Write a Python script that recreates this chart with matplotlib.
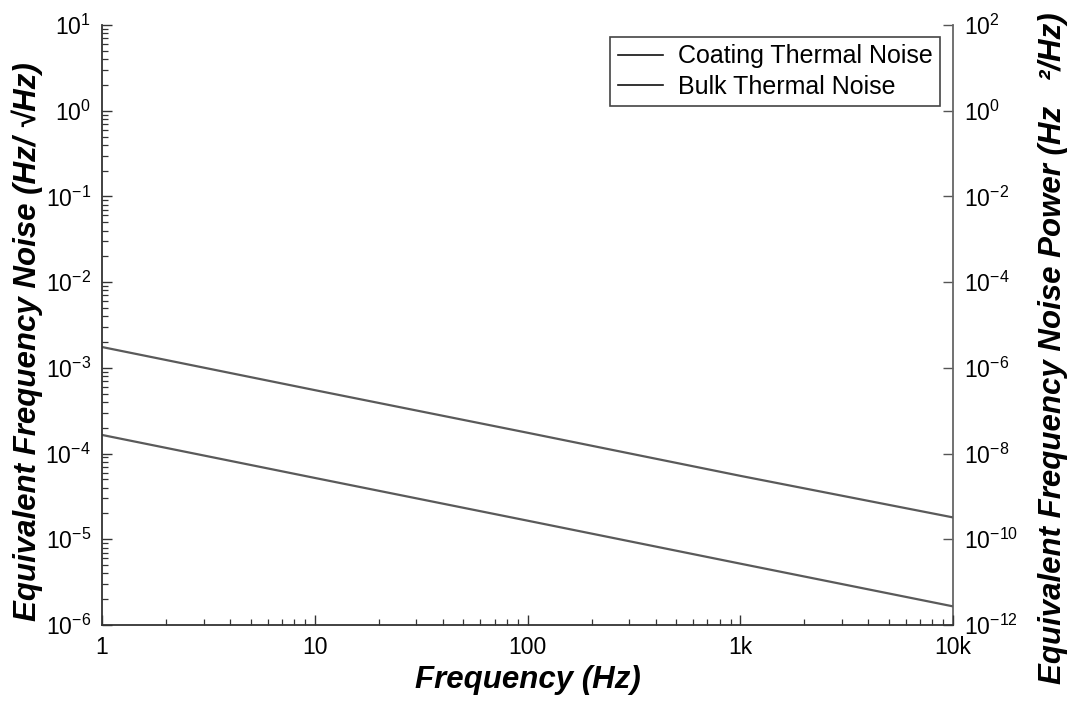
import numpy as np
import matplotlib
matplotlib.use("Agg")
import matplotlib.pyplot as plt
from matplotlib.ticker import FixedLocator, FixedFormatter, LogLocator, NullFormatter, NullLocator

plt.rcParams['font.family'] = ['Liberation Sans', 'DejaVu Sans']
plt.rcParams['mathtext.fontset'] = 'custom'
plt.rcParams['mathtext.rm'] = 'Liberation Sans'
plt.rcParams['mathtext.it'] = 'Liberation Sans:italic'
plt.rcParams['mathtext.bf'] = 'Liberation Sans:bold'

# frequency grid and noise curves (read at the decade points)
freq = [1, 10, 100, 1000, 10000]
coating_noise = [1.75e-3, 5.5e-4, 1.75e-4, 5.5e-5, 1.8e-5]
bulk_noise = [1.65e-4, 5.2e-5, 1.65e-5, 5.2e-6, 1.65e-6]

x_ticks = [1, 10, 100, 1000, 10000]
x_ticklabels = ['1', '10', '100', '1k', '10k']
left_exps = [1, 0, -1, -2, -3, -4, -5, -6]
right_exps = [2, 0, -2, -4, -6, -8, -10, -12]

fig = plt.figure(figsize=(10.76, 7.04), dpi=100)
ax = fig.add_axes([0.0948, 0.1122, 0.7909, 0.8523])

line_col = '#5a5a5a'
ax.plot(freq, coating_noise, color=line_col, lw=1.6, label='Coating Thermal Noise')
ax.plot(freq, bulk_noise, color=line_col, lw=1.6, label='Bulk Thermal Noise')

ax.set_xscale('log')
ax.set_yscale('log')
ax.set_xlim(1, 1e4)
ax.set_ylim(1e-6, 1e1)

ax.xaxis.set_major_locator(FixedLocator(x_ticks))
ax.xaxis.set_major_formatter(FixedFormatter(x_ticklabels))
ax.xaxis.set_minor_locator(LogLocator(base=10, subs=np.arange(2, 10)))
ax.xaxis.set_minor_formatter(NullFormatter())

ax.yaxis.set_major_locator(FixedLocator([10.0 ** e for e in left_exps]))
ax.yaxis.set_major_formatter(FixedFormatter(['$10^{%d}$' % e for e in left_exps]))
ax.yaxis.set_minor_locator(LogLocator(base=10, subs=np.arange(2, 10)))
ax.yaxis.set_minor_formatter(NullFormatter())

ax.tick_params(which='both', direction='in', top=False, right=False, colors='#333333')
ax.tick_params(which='major', length=7, width=1.0, labelsize=16.5, pad=8, labelcolor='black')
ax.tick_params(which='minor', length=4, width=0.9)

for s in ['left', 'bottom']:
    ax.spines[s].set_color('#333333')
    ax.spines[s].set_linewidth(1.3)
ax.spines['top'].set_visible(False)
ax.spines['right'].set_visible(False)

# power axis on the right: PSD = (ASD)^2
ax2 = ax.twinx()
ax2.set_yscale('log')
ax2.set_ylim(1e-12, 1e2)
ax2.yaxis.set_major_locator(FixedLocator([10.0 ** e for e in right_exps]))
ax2.yaxis.set_major_formatter(FixedFormatter(['$10^{%d}$' % e for e in right_exps]))
ax2.yaxis.set_minor_locator(NullLocator())
ax2.tick_params(which='major', direction='in', length=7, width=1.0, labelsize=16.5, pad=8,
                colors='#555555', labelcolor='black')
ax2.spines['right'].set_color('#666666')
ax2.spines['right'].set_linewidth(1.3)
for s in ['top', 'left', 'bottom']:
    ax2.spines[s].set_visible(False)

label_font = dict(fontsize=22.5, fontweight='bold', fontstyle='italic')
ax.set_xlabel('Frequency (Hz)', labelpad=4, **label_font)
ax.set_ylabel('Equivalent Frequency Noise (Hz/ \u221aHz)', **label_font)
ax2.set_ylabel('Equivalent Frequency Noise Power (Hz   \u00b2/Hz)', **label_font)
for a, xc, yc in [(ax, -0.088, 0.473), (ax2, 1.1175, 0.462)]:
    a.yaxis.label.set(rotation_mode='default', ha='center', va='center')
    a.yaxis.set_label_coords(xc, yc)

leg = ax.legend(loc='upper right', bbox_to_anchor=(0.985, 0.98), borderaxespad=0,
                fontsize=18, frameon=True, fancybox=False, edgecolor='#444444', framealpha=1,
                handlelength=1.8, handletextpad=0.6, labelspacing=0.25, borderpad=0.3)
leg.get_frame().set_linewidth(1.2)
for h in leg.legend_handles:
    h.set_color('#111111')
    h.set_linewidth(1.2)
ax.set_zorder(ax2.get_zorder() + 1)
ax.patch.set_visible(False)

fig.savefig('out.png', dpi=100)
